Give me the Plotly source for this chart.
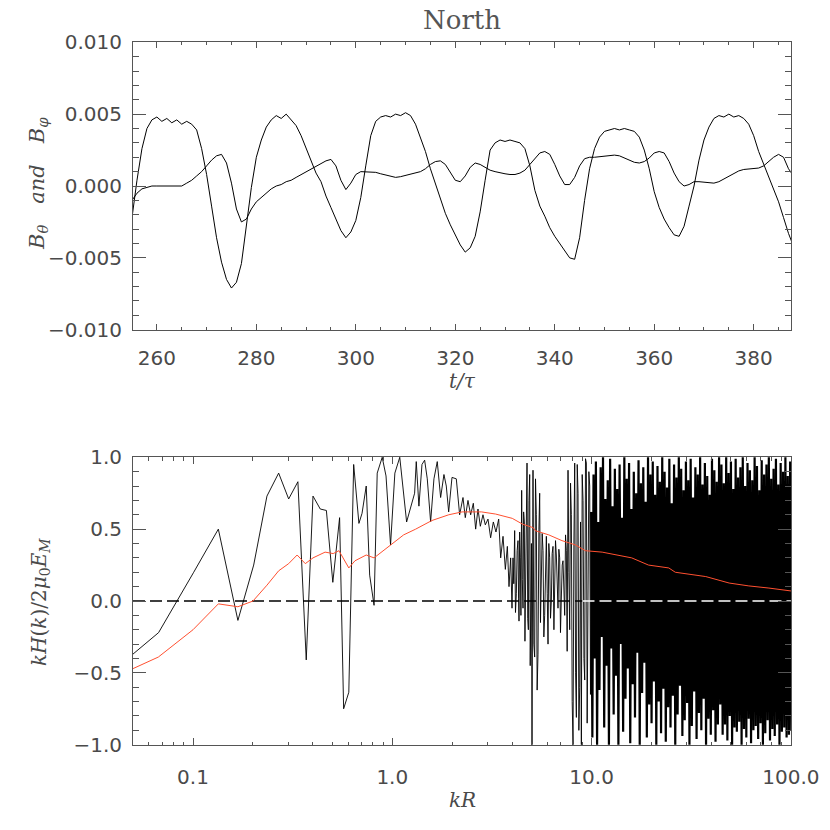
import numpy as np
import plotly.graph_objects as go

# ---- top panel: field components vs time (values in units of 1e-3) ----
t_start, t_stop = 255, 388
b_theta_milli = [
    -2.2, 0.4, 2.6, 4.0, 4.6, 4.8, 4.5, 4.7, 4.4, 4.6, 4.3, 4.5, 4.3, 3.9, 2.6, 0.8,
    -1.4, -3.6, -5.3, -6.5, -7.1, -6.7, -5.4, -2.6, -0.1, 2.0, 3.2, 4.1, 4.6, 4.9, 4.7,
    5.0, 4.6, 4.2, 3.5, 2.6, 1.7, 0.9, 0.3, -0.7, -1.5, -2.3, -3.1, -3.6, -3.2, -2.4,
    -0.8, 1.4, 3.5, 4.5, 4.8, 4.9, 4.8, 5.0, 4.9, 5.1, 4.9, 4.3, 3.3, 2.4, 1.2, 0.2,
    -0.8, -1.9, -2.7, -3.4, -4.1, -4.6, -4.3, -3.5, -1.8, 0.4, 2.5, 3.0, 3.2, 3.1, 3.2,
    3.1, 3.0, 2.6, 1.4, -0.3, -1.4, -2.1, -2.9, -3.5, -4.0, -4.5, -5.0, -5.1, -3.6,
    -1.0, 1.2, 2.6, 3.4, 3.8, 3.9, 4.0, 3.9, 4.0, 3.9, 3.8, 3.4, 2.5, 1.2, -0.4, -1.5,
    -2.3, -2.9, -3.4, -3.5, -2.8, -1.4, 0.0, 1.8, 3.2, 4.1, 4.7, 4.9, 4.8, 5.0, 4.8,
    4.9, 4.7, 4.3, 3.5, 2.4, 1.5, 0.7, -0.2, -1.1, -2.2, -3.3, -4.2,
]
b_phi_milli = [
    -1.0, -0.5, -0.2, -0.1, 0.0, 0.0, 0.0, 0.0, 0.0, -0.05, 0.0, 0.2, 0.4, 0.7, 1.0,
    1.4, 1.8, 2.1, 2.2, 1.6, 0.2, -1.6, -2.5, -2.3, -1.6, -1.1, -0.8, -0.5, -0.2, 0.0,
    0.1, 0.3, 0.4, 0.6, 0.8, 1.0, 1.2, 1.4, 1.6, 1.75, 1.85, 1.4, 0.4, -0.25, 0.2, 0.8,
    1.0, 1.0, 1.0, 0.95, 0.85, 0.75, 0.65, 0.6, 0.65, 0.75, 0.85, 0.9, 1.0, 1.2, 1.5,
    1.7, 1.75, 1.5, 0.9, 0.4, 0.3, 0.7, 1.3, 1.6, 1.5, 1.3, 1.1, 1.0, 0.9, 0.85, 0.8,
    0.8, 0.9, 1.1, 1.5, 1.9, 2.3, 2.4, 2.2, 1.5, 0.7, 0.1, 0.1, 0.6, 1.4, 1.9, 2.0,
    2.0, 2.05, 2.1, 2.15, 2.15, 2.1, 1.95, 1.8, 1.65, 1.6, 1.7, 1.95, 2.3, 2.4, 2.3,
    1.7, 0.9, 0.3, 0.0, 0.1, 0.3, 0.3, 0.25, 0.2, 0.2, 0.3, 0.5, 0.7, 0.9, 1.05, 1.15,
    1.2, 1.2, 1.25, 1.4, 1.7, 2.0, 2.2, 2.0, 1.2, 0.7,
]
t_vals = np.arange(t_start, t_stop + 1)

# ---- bottom panel: normalised helicity spectrum ----
k_low = [0.0336, 0.0672, 0.1008, 0.134, 0.168, 0.2016, 0.235, 0.269, 0.302, 0.336,
         0.37, 0.40, 0.435, 0.467, 0.503, 0.544, 0.57, 0.605, 0.64, 0.68, 0.705,
         0.74, 0.77, 0.81, 0.84, 0.89, 0.93, 0.98, 1.03, 1.09, 1.18, 1.24]
h_low = [-0.57, -0.22, 0.20, 0.50, -0.135, 0.25, 0.73, 0.89, 0.71, 0.83,
         -0.41, 0.73, 0.64, 0.63, 0.13, 0.58, -0.75, -0.635, 0.95, 0.54, 0.61,
         0.80, 0.18, -0.03, 0.89, 1.0, 0.87, 0.39, 0.89, 1.0, 0.55, 0.66]

k_mid = [1.294, 1.319, 1.360, 1.409, 1.453, 1.498, 1.557, 1.618, 1.681, 1.748,
         1.816, 1.866, 1.918, 1.993, 2.095, 2.177, 2.263, 2.324, 2.397, 2.473,
         2.550, 2.620, 2.691, 2.765, 2.851, 2.929, 3.021, 3.115, 3.213, 3.313,
         3.418, 3.498, 3.594, 3.692, 3.778, 3.851, 3.926, 3.987]
h_mid = [0.75, 0.97, 0.66, 0.95, 0.98, 0.85, 0.55, 0.85, 0.97, 0.72,
         0.88, 0.80, 0.62, 0.86, 0.85, 0.60, 0.72, 0.58, 0.70, 0.60,
         0.68, 0.50, 0.64, 0.52, 0.60, 0.53, 0.57, 0.44, 0.55, 0.48,
         0.57, 0.30, 0.45, 0.22, 0.38, 0.10, 0.30, -0.05]

k_noisy = [4.033, 4.07, 4.111, 4.15, 4.192, 4.23, 4.273, 4.30, 4.323, 4.356, 4.390,
           4.42, 4.458, 4.49, 4.528, 4.56, 4.598, 4.63, 4.670, 4.71, 4.742, 4.78,
           4.816, 4.85, 4.891, 4.92, 4.948, 4.99, 5.023, 5.05, 5.082, 5.13, 5.181,
           5.23, 5.282, 5.33, 5.384, 5.44, 5.489, 5.54, 5.596, 5.65, 5.705, 5.76,
           5.815, 5.87, 5.929, 5.99, 6.044, 6.10, 6.161, 6.22, 6.281, 6.34, 6.403,
           6.47, 6.528, 6.59, 6.654, 6.72, 6.784, 6.85, 6.916, 6.98, 7.050, 7.12,
           7.187, 7.26, 7.328, 7.40, 7.470, 7.54, 7.616, 7.69, 7.765, 7.84, 7.915,
           7.99, 8.070, 8.15, 8.227, 8.31, 8.386, 8.47, 8.550, 8.63, 8.716, 8.80,
           8.885, 8.97, 9.058, 9.15, 9.235, 9.32, 9.413, 9.50, 9.596, 9.69, 9.784, 9.87]
h_noisy = [0.30, 0.12, 0.49, -0.08, 0.05, 0.35, 0.42, 0.02, -0.14, 0.48, 0.30,
           -0.10, 0.77, 0.15, -0.05, 0.62, 0.55, -0.28, 0.10, 0.82, 0.96, -0.12,
           -0.20, 0.70, 0.88, -0.45, -0.23, 0.40, -1.0, 0.55, 0.91, -0.30, -0.39,
           0.85, 0.60, -0.62, -0.37, 0.50, 0.75, -0.15, 0.10, 0.47, 0.35, -0.25,
           -0.10, 0.28, 0.45, 0.05, -0.30, 0.40, 0.30, -0.12, 0.00, 0.33, 0.38,
           -0.20, 0.02, 0.42, 0.32, 0.08, -0.05, 0.36, 0.30, -0.22, 0.05, 0.25,
           0.28, -0.05, -0.10, 0.46, 0.35, -0.35, 0.91, 0.20, -0.20, 0.82, 0.60,
           -0.70, -1.0, 0.40, 0.96, -0.50, -0.81, 0.95, 0.75, -0.90, -0.60, 0.55,
           -1.0, 0.88, 0.70, -0.40, -0.55, 0.99, 0.96, -0.85, -0.23, 0.90, 0.80, -0.65]

# k > 10: the spectrum fills the whole band; values read as alternating extremes
h_dense = [
    0.62, -0.95, 0.88, -0.40, 0.97, -1.00, 0.55, -0.62, 0.93, -0.25, 1.00, -0.88,
    0.71, -0.45, 0.84, -1.00, 0.99, -0.33, 0.66, -0.79, 0.92, -0.52, 0.78, -1.00,
    0.95, -0.30, 0.58, -0.91, 1.00, -0.68, 0.85, -0.47, 0.96, -0.99, 0.64, -0.58,
    0.90, -0.81, 0.75, -0.36, 0.98, -1.00, 0.82, -0.64, 0.93, -0.43, 0.69, -0.95,
    1.00, -0.72,
    0.88, -0.85, 0.97, -0.56, 0.74, -1.00, 0.94, -0.70, 0.83, -0.92, 1.00, -0.61,
    0.90, -0.98, 0.79, -0.74, 0.99, -0.88, 0.68, -0.66, 0.95, -1.00, 0.86, -0.79,
    1.00, -0.59, 0.92, -0.94, 0.77, -0.83, 0.97, -0.71, 0.84, -1.00, 0.99, -0.87,
    0.72, -0.63, 0.93, -0.96, 0.88, -0.78, 1.00, -0.90, 0.81, -0.68, 0.96, -1.00,
    0.87, -0.82, 0.74, -0.93, 0.99, -0.76, 0.91, -0.98, 0.83, -0.86, 1.00, -0.72,
    0.95, -0.93, 0.82, -0.86, 1.00, -0.97, 0.89, -0.80, 0.97, -1.00, 0.78, -0.88,
    0.99, -0.91, 0.86, -0.84, 0.93, -1.00, 1.00, -0.89, 0.80, -0.95, 0.96, -0.82,
    0.91, -0.99, 0.84, -0.90, 1.00, -0.87, 0.94, -0.96, 0.77, -0.85, 0.98, -1.00,
    0.88, -0.92, 0.95, -0.83, 1.00, -0.97, 0.85, -0.89, 0.92, -0.94, 0.99, -0.86,
    0.81, -1.00, 0.96, -0.91, 0.90, -0.88, 1.00, -0.95, 0.87, -0.93, 0.97, -0.90,
]
k_dense = np.geomspace(9.95, 100.5, len(h_dense))

k_red = [0.0336, 0.05, 0.067, 0.1, 0.134, 0.168, 0.2, 0.235, 0.269, 0.302, 0.333,
         0.366, 0.40, 0.46, 0.505, 0.54, 0.605, 0.65, 0.74, 0.81, 0.90, 0.99, 1.14,
         1.31, 1.58, 1.92, 2.24, 2.8, 3.3, 4.0, 4.5, 5.1, 5.2, 6.1, 7.1, 8.3, 9.3,
         11.3, 12.2, 14.2, 15.9, 19.3, 24.4, 26.3, 33.3, 37.4, 49, 61.5, 77.6, 100]
h_red = [-0.58, -0.47, -0.39, -0.20, -0.02, -0.04, 0.00, 0.11, 0.21, 0.26, 0.32,
         0.26, 0.30, 0.34, 0.33, 0.35, 0.23, 0.28, 0.32, 0.30, 0.35, 0.39, 0.46,
         0.50, 0.56, 0.60, 0.62, 0.62, 0.605, 0.575, 0.535, 0.51, 0.49, 0.46, 0.42,
         0.39, 0.35, 0.34, 0.33, 0.31, 0.30, 0.25, 0.23, 0.20, 0.18, 0.17, 0.125,
         0.105, 0.09, 0.07]

k_sparse = list(k_low) + list(k_mid) + list(k_noisy)
h_sparse = h_low + h_mid + h_noisy

# body margin is removed in post_script, so paper coords map 1:1 to page pixels
W = 830


def fx(px):
    return px / W


def fy(py):
    return 1 - py / W


AX = "#555555"
TXT = "#4a4a4a"
TICKFONT = dict(family="DejaVu Sans", size=20, color=TXT)
LBLFONT = dict(family="DejaVu Serif", size=20, color=TXT)
SP = "\u2003"

fig = go.Figure()
fig.add_trace(go.Scatter(x=t_vals, y=np.array(b_theta_milli) * 1e-3, mode="lines",
                         line=dict(color="black", width=1), xaxis="x", yaxis="y"))
fig.add_trace(go.Scatter(x=t_vals, y=np.array(b_phi_milli) * 1e-3, mode="lines",
                         line=dict(color="black", width=1), xaxis="x", yaxis="y"))

fig.add_trace(go.Scatter(x=k_sparse + [k_dense[0]], y=h_sparse + [h_dense[0]], mode="lines",
                         line=dict(color="black", width=0.9), xaxis="x2", yaxis="y2"))
fig.add_trace(go.Scatter(x=k_dense, y=h_dense, mode="lines",
                         line=dict(color="black", width=2.2), xaxis="x2", yaxis="y2"))
# zero line: black dashes over the open part, white dashes where the band is solid
fig.add_trace(go.Scatter(x=[0.05, 9.0], y=[0, 0], mode="lines",
                         line=dict(color="black", width=1.5, dash="12px,5px"),
                         xaxis="x2", yaxis="y2"))
fig.add_trace(go.Scatter(x=[9.0, 100], y=[0, 0], mode="lines",
                         line=dict(color="white", width=1.5, dash="12px,5px"),
                         xaxis="x2", yaxis="y2"))
fig.add_trace(go.Scatter(x=k_red, y=h_red, mode="lines",
                         line=dict(color="#ff5030", width=1), xaxis="x2", yaxis="y2"))

common = dict(showline=True, linecolor=AX, linewidth=1, mirror="ticks", ticks="inside",
              tickcolor=AX, showgrid=False, zeroline=False, tickfont=TICKFONT,
              automargin=False)
x_dom = [fx(133), fx(791)]

minor_log = [0.06, 0.07, 0.08, 0.09, 0.2, 0.3, 0.4, 0.5, 0.6, 0.7, 0.8, 0.9,
             2, 3, 4, 5, 6, 7, 8, 9, 20, 30, 40, 50, 60, 70, 80, 90]


def label(text, px, py, angle=0, font=LBLFONT):
    return dict(text=text, x=fx(px), y=fy(py), xref="paper", yref="paper",
                xanchor="center", yanchor="middle", textangle=angle,
                showarrow=False, font=font, borderpad=0)


fig.update_layout(
    width=W, height=W,
    margin=dict(l=0, r=0, t=0, b=0, autoexpand=False),
    paper_bgcolor="white", plot_bgcolor="white",
    showlegend=False,
    xaxis=dict(domain=x_dom, anchor="y", range=[255.2, 387.5], dtick=20, tick0=0,
               ticklen=6, ticklabelstandoff=10,
               minor=dict(ticks="inside", dtick=5, tick0=0, ticklen=3, tickcolor=AX),
               **common),
    yaxis=dict(domain=[fy(330), fy(42)], anchor="x",
               range=[-0.01002, 0.01002], dtick=0.005, tickformat=".3f",
               ticklen=13, ticklabelstandoff=6,
               minor=dict(ticks="inside", dtick=0.001, ticklen=6, tickcolor=AX),
               **common),
    xaxis2=dict(domain=x_dom, anchor="y2", type="log",
                range=[np.log10(0.05), 2.0005],
                tickvals=[0.1, 1, 10, 100], ticktext=["0.1", "1.0", "10.0", "100.0"],
                ticklen=7, ticklabelstandoff=14,
                minor=dict(ticks="inside", tickvals=minor_log, ticklen=3.5, tickcolor=AX),
                **common),
    yaxis2=dict(domain=[fy(745), fy(457)], anchor="x2",
                range=[-1.002, 1.002], dtick=0.5, tickformat=".1f",
                ticklen=13, ticklabelstandoff=6,
                minor=dict(ticks="inside", dtick=0.1, ticklen=6, tickcolor=AX),
                **common),
    annotations=[
        label("North", 462, 20, font=dict(family="DejaVu Serif", size=26, color="#555555")),
        label(f"<i>B</i><sub><i>θ</i></sub>{SP}<i>and</i>{SP}<i>B</i><sub><i>φ</i></sub>",
              38, 184, angle=-90, font=dict(family="DejaVu Serif", size=21, color=TXT)),
        label("<i>t/τ</i>", 462, 381),
        label("<i>kH</i>(<i>k</i>)/2<i>μ</i><sub>0</sub><i>E</i><sub><i>M</i></sub>",
              40, 602, angle=-90),
        label("<i>kR</i>", 462, 800),
    ],
)

fig.write_html("out.html", config={"displayModeBar": False},
               post_script="document.body.style.margin='0';")
